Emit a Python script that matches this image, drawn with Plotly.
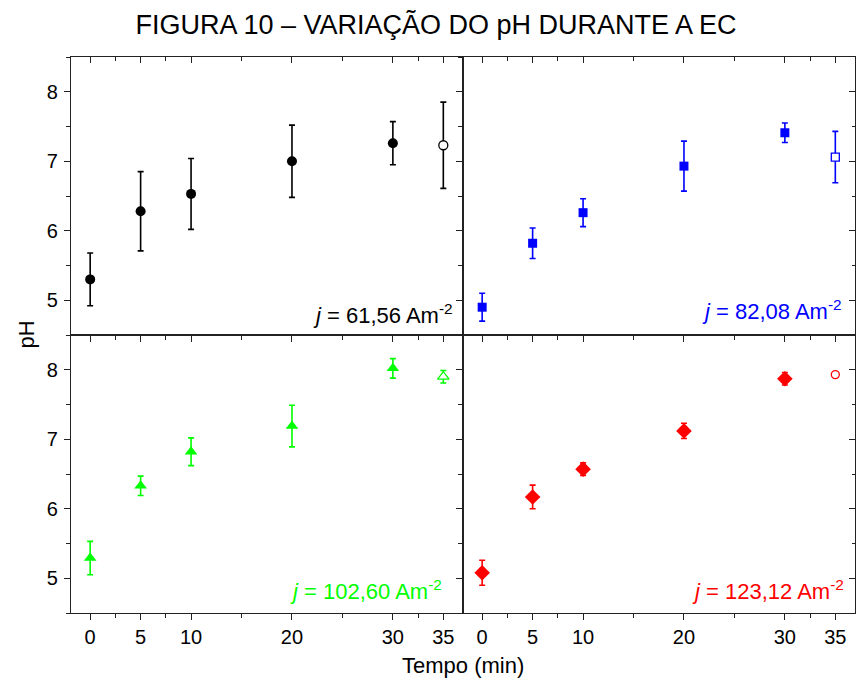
import plotly.graph_objects as go

# ---------------- data ----------------
tempo = [0, 5, 10, 20, 30, 35]

ph_61 = [5.30, 6.28, 6.53, 7.00, 7.26, 7.23]
err_61 = [0.38, 0.57, 0.51, 0.52, 0.31, 0.62]

ph_82 = [4.90, 5.82, 6.26, 6.93, 7.41, 7.06]
err_82 = [0.20, 0.22, 0.20, 0.36, 0.14, 0.37]

ph_102 = [5.29, 6.33, 6.82, 7.19, 8.02, 7.90]
err_102 = [0.24, 0.14, 0.20, 0.30, 0.14, 0.09]

ph_123 = [5.08, 6.17, 6.57, 7.12, 7.87, 7.93]
err_123 = [0.18, 0.17, 0.09, 0.11, 0.09, 0.02]

x_ticks = [0, 5, 10, 20, 30, 35]
x_minor = [2.5, 7.5, 15, 25, 32.5]
y_ticks = [5, 6, 7, 8]
y_minor = [4.5, 5.5, 6.5, 7.5, 8.5]

labels = ["61,56", "82,08", "102,60", "123,12"]

# --------------- style ----------------
FONT = "Liberation Sans, Arial, sans-serif"
panels = [
    dict(y=ph_61, e=err_61, color="#000000", sym="circle", size=10, xa="x", ya="y"),
    dict(y=ph_82, e=err_82, color="#0000FF", sym="square", size=9, xa="x2", ya="y2"),
    dict(y=ph_102, e=err_102, color="#00FF00", sym="triangle-up", size=11, xa="x3", ya="y3"),
    dict(y=ph_123, e=err_123, color="#FF0000", sym="diamond", size=12, xa="x4", ya="y4"),
]
open_sym = ["circle", "square", "triangle-up", "circle"]
open_size = [9, 8, 10, 8]

fig = go.Figure()
for i, p in enumerate(panels):
    # filled points
    fig.add_trace(go.Scatter(
        x=tempo[:-1], y=p["y"][:-1], mode="markers",
        xaxis=p["xa"], yaxis=p["ya"], showlegend=False,
        marker=dict(symbol=p["sym"], size=p["size"], color=p["color"],
                    line=dict(width=0)),
        error_y=dict(type="data", array=p["e"][:-1], color=p["color"],
                     thickness=1.6, width=3),
    ))
    # open last point
    fig.add_trace(go.Scatter(
        x=tempo[-1:], y=p["y"][-1:], mode="markers",
        xaxis=p["xa"], yaxis=p["ya"], showlegend=False,
        marker=dict(symbol=open_sym[i], size=open_size[i], color="white",
                    line=dict(width=1.3, color=p["color"])),
        error_y=dict(type="data", array=p["e"][-1:], color=p["color"],
                     thickness=1.6, width=3),
    ))

# empty traces to hold the inside-tick overlay axes
for xa, ya in [("x5", "y"), ("x6", "y2"), ("x2", "y5"), ("x4", "y6")]:
    fig.add_trace(go.Scatter(x=[], y=[], xaxis=xa, yaxis=ya, showlegend=False,
                             hoverinfo="skip"))

XR = [-1.9, 36.95]
YR = [4.5, 8.5]
LC = "#222222"

def xax(domain, anchor, labels_on):
    return dict(domain=domain, anchor=anchor, range=XR, showgrid=False,
                zeroline=False, showline=True, linecolor=LC, linewidth=1.4,
                mirror=True, ticks="outside", ticklen=6, tickwidth=1.3,
                tickcolor=LC, tickmode="array", tickvals=x_ticks,
                showticklabels=labels_on,
                tickfont=dict(family=FONT, size=20, color="#000"),
                minor=dict(tickmode="array", tickvals=x_minor, ticks="outside",
                           ticklen=3.5, tickwidth=1.2, tickcolor=LC))

def yax(domain, anchor, labels_on):
    return dict(domain=domain, anchor=anchor, range=YR, showgrid=False,
                zeroline=False, showline=True, linecolor=LC, linewidth=1.4,
                mirror=True, ticks="outside", ticklen=6, tickwidth=1.3,
                tickcolor=LC, tickmode="array", tickvals=y_ticks,
                showticklabels=labels_on, ticklabelstandoff=2,
                tickfont=dict(family=FONT, size=20, color="#000"),
                minor=dict(tickmode="array", tickvals=y_minor, ticks="outside",
                           ticklen=3.5, tickwidth=1.2, tickcolor=LC))

def x_in(over, anchor):
    return dict(overlaying=over, anchor=anchor, side="top", range=XR,
                showgrid=False, zeroline=False, showline=False,
                ticks="inside", ticklen=6, tickwidth=1.3, tickcolor=LC,
                tickmode="array", tickvals=x_ticks, showticklabels=False,
                minor=dict(tickmode="array", tickvals=x_minor, ticks="inside",
                           ticklen=3.5, tickwidth=1.2, tickcolor=LC))

def y_in(over, anchor):
    return dict(overlaying=over, anchor=anchor, side="right", range=YR,
                showgrid=False, zeroline=False, showline=False,
                ticks="inside", ticklen=6, tickwidth=1.3, tickcolor=LC,
                tickmode="array", tickvals=y_ticks, showticklabels=False,
                minor=dict(tickmode="array", tickvals=y_minor, ticks="inside",
                           ticklen=3.5, tickwidth=1.2, tickcolor=LC))

layout = dict(
    width=856, height=681,
    margin=dict(l=71, r=1, t=57, b=68),
    paper_bgcolor="white", plot_bgcolor="white",
    font=dict(family=FONT, color="#000"),
    xaxis=xax([0, 0.5], "y", False),
    yaxis=yax([0.5, 1], "x", True),
    xaxis2=xax([0.5, 1], "y2", False),
    yaxis2=yax([0.5, 1], "x2", False),
    xaxis3=xax([0, 0.5], "y3", True),
    yaxis3=yax([0, 0.5], "x3", True),
    xaxis4=xax([0.5, 1], "y4", True),
    yaxis4=yax([0, 0.5], "x4", False),
    xaxis5=x_in("x", "y"),
    xaxis6=x_in("x2", "y2"),
    yaxis5=y_in("y2", "x2"),
    yaxis6=y_in("y4", "x4"),
    title=dict(text="FIGURA 10 – VARIAÇÃO DO pH DURANTE A EC",
               x=436 / 856, xanchor="center", y=1 - 25 / 681, yanchor="middle",
               xref="container", yref="container",
               font=dict(family=FONT, size=27, color="#000")),
)
fig.update_layout(**layout)

# axis titles
fig.add_annotation(text="Tempo (min)", xref="paper", yref="paper",
                   x=0.5, y=-0.094, xanchor="center", yanchor="middle",
                   showarrow=False, font=dict(family=FONT, size=22, color="#000"))
fig.add_annotation(text="pH", xref="paper", yref="paper",
                   x=-0.058, y=0.5, xanchor="center", yanchor="middle",
                   textangle=-90, showarrow=False,
                   font=dict(family=FONT, size=22, color="#000"))

# panel labels
ann_pos = [(0.98, 0.075), (0.971, 0.09), (0.951, 0.082), (0.976, 0.082)]
for (ax, ay), p, lab in zip(ann_pos, panels, labels):
    fig.add_annotation(
        text="<i>j</i> = " + lab + " Am<sup>-2</sup>",
        xref=p["xa"] + " domain", yref=p["ya"] + " domain",
        x=ax, y=ay, xanchor="right", yanchor="middle", showarrow=False,
        font=dict(family=FONT, size=22, color=p["color"]))

fig.write_html("out.html",
               config={"displayModeBar": False},
               post_script="document.body.style.margin='0';"
                           "document.body.style.padding='0';"
                           "document.body.style.overflow='hidden';")
